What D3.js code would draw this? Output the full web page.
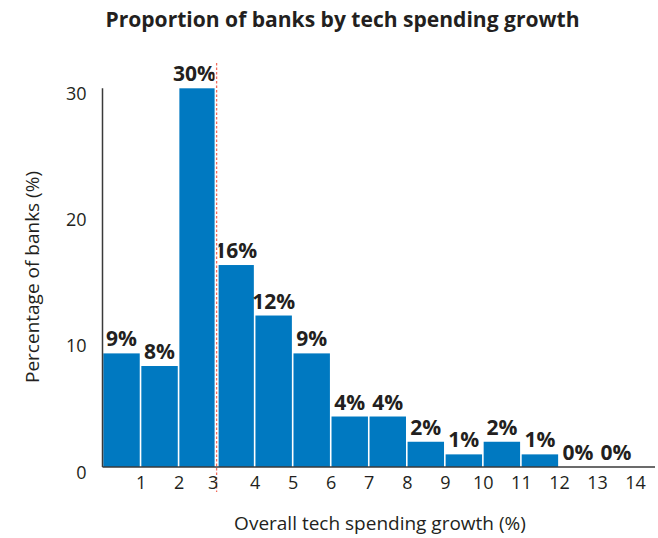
<!DOCTYPE html>
<html>
<head>
<meta charset="utf-8">
<script src="https://cdn.jsdelivr.net/npm/d3@7"></script>
<style>
  html, body { margin: 0; padding: 0; background: #fff; }
  svg { display: block; }
  text { font-family: "Open Sans", "Noto Sans", sans-serif; fill: #231f20; }
</style>
</head>
<body>
<svg id="chart" width="658" height="538"></svg>
<script>
// Histogram bins: growth ranges [k, k+1) in percent
const binStarts = [0, 1, 2, 3, 4, 5, 6, 7, 8, 9, 10, 11, 12, 13];
const shares = [9, 8, 30, 16, 12, 9, 4, 4, 2, 1, 2, 1, 0, 0];
const xTicks = [1, 2, 3, 4, 5, 6, 7, 8, 9, 10, 11, 12, 13, 14];
const yTicks = [0, 10, 20, 30];
const medianGrowth = 3;

const svg = d3.select("#chart");
const x = d3.scaleLinear().domain([0, 14]).range([102.5, 635]);
const y = d3.scaleLinear().domain([0, 30]).range([467, 88.3]);

// Title
svg.append("text")
  .attr("x", 342.5).attr("y", 27)
  .attr("text-anchor", "middle")
  .attr("font-size", 22).attr("font-weight", 700)
  .attr("textLength", 474).attr("lengthAdjust", "spacingAndGlyphs")
  .text("Proportion of banks by tech spending growth");

// Bars
svg.append("g").selectAll("rect")
  .data(binStarts)
  .join("rect")
  .attr("x", (d) => x(d) + 0.8)
  .attr("width", (d) => x(d + 1) - x(d) - 1.6)
  .attr("y", (d, i) => y(shares[i]))
  .attr("height", (d, i) => y(0) - y(shares[i]))
  .attr("fill", "#0079c1");

// Value labels
svg.append("g").selectAll("text")
  .data(binStarts)
  .join("text")
  .attr("x", (d, i) => (x(d) + x(d + 1)) / 2 - (shares[i] === 30 ? 3 : 0))
  .attr("y", (d, i) => y(shares[i]) - 7)
  .attr("text-anchor", "middle")
  .attr("font-size", 21).attr("font-weight", 700)
  .text((d, i) => shares[i] + "%");

// Median marker
svg.append("line")
  .attr("x1", x(medianGrowth)).attr("x2", x(medianGrowth))
  .attr("y1", 63).attr("y2", 492)
  .attr("stroke", "#fff").attr("stroke-width", 4);
svg.append("line")
  .attr("x1", x(medianGrowth)).attr("x2", x(medianGrowth))
  .attr("y1", 63).attr("y2", 492)
  .attr("stroke", "#f26b5b").attr("stroke-width", 1.3)
  .attr("stroke-dasharray", "2.5,2");

// Axes
const xAxis = svg.append("g")
  .attr("transform", `translate(0,${y(0)})`)
  .call(d3.axisBottom(x).tickValues(xTicks).tickSize(0).tickPadding(9));
xAxis.select(".domain").remove();
xAxis.selectAll("text")
  .attr("font-size", 18)
  .attr("font-family", "Open Sans, Noto Sans, sans-serif")
  .attr("fill", "#231f20")
  .attr("dx", (d) => d === medianGrowth ? -4 : 0);
svg.append("line")
  .attr("x1", x(0)).attr("x2", 655)
  .attr("y1", y(0)).attr("y2", y(0))
  .attr("stroke", "#3a3a3a").attr("stroke-width", 1.5);

const yAxis = svg.append("g")
  .attr("transform", `translate(${x(0)},0)`)
  .call(d3.axisLeft(y).tickValues(yTicks).tickSize(0).tickPadding(16));
yAxis.select(".domain").remove();
yAxis.selectAll("text")
  .attr("font-size", 18)
  .attr("font-family", "Open Sans, Noto Sans, sans-serif")
  .attr("fill", "#231f20")
  .attr("dy", "0.62em");
svg.append("line")
  .attr("x1", x(0)).attr("x2", x(0))
  .attr("y1", y(30)).attr("y2", y(0))
  .attr("stroke", "#3a3a3a").attr("stroke-width", 1.5);

// Axis titles
svg.append("text")
  .attr("x", 380).attr("y", 530)
  .attr("text-anchor", "middle")
  .attr("font-size", 19)
  .text("Overall tech spending growth (%)");
svg.append("text")
  .attr("transform", "translate(39,277) rotate(-90)")
  .attr("text-anchor", "middle")
  .attr("font-size", 19)
  .text("Percentage of banks (%)");
</script>
</body>
</html>
